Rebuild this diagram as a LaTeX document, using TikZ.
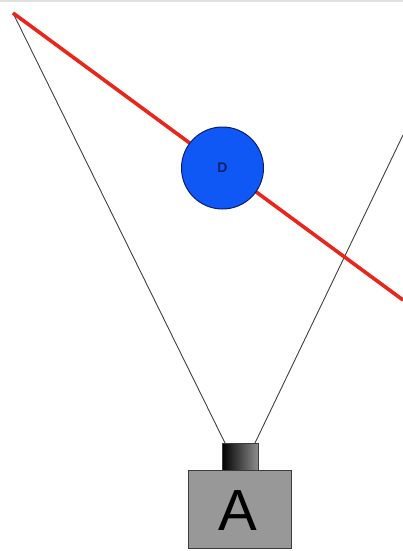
\documentclass[tikz,border=0pt]{standalone}
\usepackage{fontspec}
\setmainfont{Liberation Sans}
\definecolor{redline}{RGB}{232,38,28}
\definecolor{ballblue}{RGB}{16,88,245}
\definecolor{ballnavy}{RGB}{10,30,110}
\definecolor{bodygray}{RGB}{152,152,152}
\definecolor{bodyedge}{RGB}{60,60,60}
\begin{document}
\begin{tikzpicture}[x=1pt,y=-1pt,
  ray/.style={draw=black!75,line width=0.9pt},
  redray/.style={draw=redline,line width=3.6pt},
  ball/.style={circle,draw=ballnavy,line width=1pt,fill=ballblue,minimum size=82pt,inner sep=0pt,
    font=\fontsize{14}{14}\selectfont\bfseries,text=ballnavy},
  camlens/.style={draw=bodyedge,line width=0.8pt,left color=black,right color=black!45,
    minimum width=36pt,minimum height=28pt,inner sep=0pt},
  cambody/.style={draw=bodyedge,line width=1pt,fill=bodygray,minimum width=103pt,minimum height=78pt,
    inner sep=0pt,font=\fontsize{56}{56}\selectfont}]
\useasboundingbox[fill=white] (0,0) rectangle (403,551);
\draw[black!12,line width=1.2pt] (0,1) -- (403,1);
\coordinate (tl) at (13,13);
\coordinate (rr) at (403,300);
\coordinate (re) at (403,135);
\coordinate (lt) at (225,443);
\coordinate (rt) at (255,443);
\draw[ray] (tl) -- (lt);
\draw[ray] (re) -- (rt);
\draw[redray] (tl) -- (rr);
\node[ball] (D) at (222.5,168) {D};
\node[camlens] (lens) at (240,457) {};
\node[cambody] (A) at (239.5,509) {};
\node[font=\fontsize{58}{58}\selectfont] (Alab) at (238,511) {A};
\end{tikzpicture}
\end{document}
